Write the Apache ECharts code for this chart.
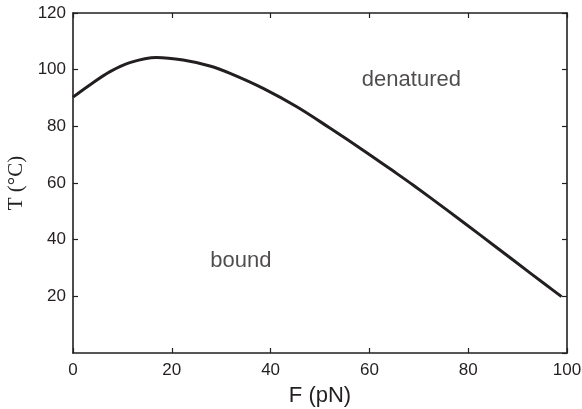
<!DOCTYPE html>
<html>
<head>
<meta charset="utf-8">
<script src="https://cdn.jsdelivr.net/npm/echarts@6/dist/echarts.min.js"></script>
<style>html,body{margin:0;padding:0;background:#fff}#c{width:582px;height:409px}</style>
</head>
<body>
<div id="c"></div>
<script>
const forceValues = [0, 3.4, 7.5, 11.5, 16.9, 22.3, 27.7, 31.8, 38.5, 45.3, 52, 58.8, 65.5, 68.9, 75.6, 82.4, 89.1, 95.9, 98.9];
const tempValues  = [90.3, 94.6, 99.3, 102.5, 104.3, 103.4, 101.3, 98.7, 93.4, 86.9, 79.4, 71.5, 63.4, 59.2, 50.6, 41.7, 32.8, 23.8, 19.9];
const xTicks = [0, 20, 40, 60, 80, 100];
const yTicks = [20, 40, 60, 80, 100, 120];
const regionLabels = [
  { text: 'denatured', F: 68.5, T: 96.5 },
  { text: 'bound', F: 34, T: 32.5 }
];

const ink = '#231f20';
const chart = echarts.init(document.getElementById('c'), null, { renderer: 'canvas' });
const lineData = forceValues.map((f, i) => [f, tempValues[i]]);
const labelFont = 'Liberation Sans, Arial, Helvetica, sans-serif';

const baseAxis = {
  min: 0,
  interval: 20,
  splitLine: { show: false },
  axisLine: { show: true, onZero: false, lineStyle: { color: ink, width: 1.6 } },
  axisTick: { show: true, inside: true, length: 5, lineStyle: { color: ink, width: 1.2 } }
};

chart.setOption({
  animation: false,
  backgroundColor: '#fff',
  grid: { left: 73, right: 15, top: 13, bottom: 56, containLabel: false, outerBoundsMode: 'none' },
  xAxis: [
    Object.assign({}, baseAxis, {
      type: 'value', max: 100, position: 'bottom',
      name: 'F (pN)', nameLocation: 'middle', nameGap: 32,
      nameTextStyle: { color: ink, fontSize: 22, fontFamily: labelFont },
      axisLabel: { color: ink, fontSize: 17, fontFamily: labelFont, margin: 9,
        formatter: v => xTicks.includes(v) ? String(v) : '' }
    }),
    Object.assign({}, baseAxis, {
      type: 'value', max: 100, position: 'top', axisLabel: { show: false }
    })
  ],
  yAxis: [
    Object.assign({}, baseAxis, {
      type: 'value', max: 120, position: 'left',
      name: 'T (°C)', nameLocation: 'middle', nameGap: 46,
      nameTextStyle: { color: ink, fontSize: 21, fontFamily: 'Liberation Serif, Times New Roman, serif' },
      axisLabel: { color: ink, fontSize: 17, fontFamily: labelFont, margin: 7, showMinLabel: false,
        formatter: v => yTicks.includes(v) ? String(v) : '' }
    }),
    Object.assign({}, baseAxis, {
      type: 'value', max: 120, position: 'right', axisLabel: { show: false }
    })
  ],
  series: [
    {
      type: 'line',
      data: lineData,
      smooth: 0.35,
      symbol: 'none',
      lineStyle: { color: ink, width: 3 },
      z: 3
    },
    {
      type: 'scatter',
      data: regionLabels.map(r => ({ value: [r.F, r.T], name: r.text })),
      symbolSize: 0,
      label: {
        show: true, position: 'inside',
        formatter: p => p.name,
        color: ink, fontSize: 22, fontFamily: labelFont
      },
      silent: true
    }
  ]
});
</script>
</body>
</html>
